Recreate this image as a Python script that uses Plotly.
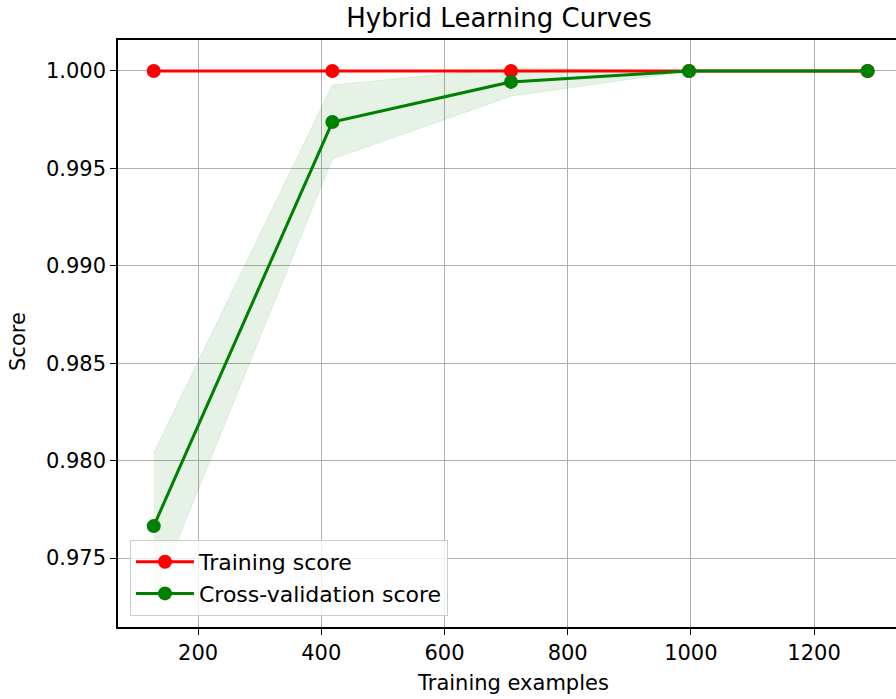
import plotly.graph_objects as go

train_sizes = [128, 418, 708, 997, 1287]
train_mean = [1.0, 1.0, 1.0, 1.0, 1.0]
train_std = [0.0, 0.0, 0.0, 0.0, 0.0]
cv_mean = [0.97664, 0.99738, 0.99944, 1.0, 1.0]
cv_std = [0.00375, 0.00190, 0.00073, 0.0, 0.0]

x_ticks = [200, 400, 600, 800, 1000, 1200]
y_ticks = [0.975, 0.980, 0.985, 0.990, 0.995, 1.000]

FONT = "DejaVu Sans"
W, H = 896, 699
fig = go.Figure()

cv_lo = [m - s for m, s in zip(cv_mean, cv_std)]
cv_hi = [m + s for m, s in zip(cv_mean, cv_std)]
tr_lo = [m - s for m, s in zip(train_mean, train_std)]
tr_hi = [m + s for m, s in zip(train_mean, train_std)]

band = "rgba(0,128,0,0.1)"
fig.add_trace(go.Scatter(x=train_sizes, y=tr_lo, mode="lines", line=dict(width=0),
                         showlegend=False, hoverinfo="skip"))
fig.add_trace(go.Scatter(x=train_sizes, y=tr_hi, mode="lines", line=dict(width=0),
                         fill="tonexty", fillcolor="rgba(255,0,0,0.1)",
                         showlegend=False, hoverinfo="skip"))
fig.add_trace(go.Scatter(x=train_sizes, y=cv_lo, mode="lines", line=dict(width=1, color=band),
                         showlegend=False, hoverinfo="skip"))
fig.add_trace(go.Scatter(x=train_sizes, y=cv_hi, mode="lines", line=dict(width=1, color=band),
                         fill="tonexty", fillcolor=band,
                         showlegend=False, hoverinfo="skip"))

fig.add_trace(go.Scatter(x=train_sizes, y=train_mean, mode="lines+markers",
                         name="Training score",
                         line=dict(color="#ff0000", width=3),
                         marker=dict(color="#ff0000", size=14)))
fig.add_trace(go.Scatter(x=train_sizes, y=cv_mean, mode="lines+markers",
                         name="Cross-validation score",
                         line=dict(color="#008000", width=3),
                         marker=dict(color="#008000", size=14)))

fig.update_layout(
    width=W, height=H,
    margin=dict(l=118, r=0, t=40, b=72, autoexpand=False),
    plot_bgcolor="white", paper_bgcolor="white",
    font=dict(family=FONT, size=21, color="black"),
    title=dict(text="Hybrid Learning Curves", x=499/W, xref="container", xanchor="center",
               y=1 - 18/H, yref="container", yanchor="middle",
               font=dict(family=FONT, size=26, color="black")),
    legend=dict(x=0.0154, y=0.0187, xanchor="left", yanchor="bottom",
                bgcolor="rgba(255,255,255,0.8)", bordercolor="#cccccc", borderwidth=1,
                font=dict(family=FONT, size=22, color="black"),
                traceorder="normal", tracegroupgap=0, itemwidth=58),
    showlegend=True,
    annotations=[
        dict(text="Training examples", xref="paper", yref="paper",
             x=(513 - 118) / (W - 118), y=-(683 - 627) / (627 - 40),
             xanchor="center", yanchor="middle", showarrow=False,
             font=dict(family=FONT, size=21, color="black")),
        dict(text="Score", xref="paper", yref="paper",
             x=-(118 - 18) / (W - 118), y=(627 - 342) / (627 - 40),
             xanchor="center", yanchor="middle", showarrow=False, textangle=-90,
             font=dict(family=FONT, size=21, color="black")),
    ],
)

fig.update_xaxes(range=[70, 1333], tickmode="array", tickvals=x_ticks,
                 ticktext=[str(v) for v in x_ticks], automargin=False,
                 showgrid=True, gridcolor="#b0b0b0", gridwidth=1.4,
                 showline=True, linecolor="black", linewidth=1.5, mirror=True,
                 ticks="outside", ticklen=6, tickwidth=1.3, tickcolor="black",
                 zeroline=False)
fig.update_yaxes(range=[0.97146, 1.00159], tickmode="array", tickvals=y_ticks,
                 ticktext=[f"{v:.3f}" for v in y_ticks], automargin=False,
                 showgrid=True, gridcolor="#b0b0b0", gridwidth=1.4,
                 showline=True, linecolor="black", linewidth=1.5, mirror=False,
                 ticks="outside", ticklen=6, tickwidth=1.3, tickcolor="black",
                 zeroline=False)

fig.write_html("out.html", config={"displayModeBar": False},
               post_script="document.body.style.margin='0';document.body.style.overflow='hidden';")
